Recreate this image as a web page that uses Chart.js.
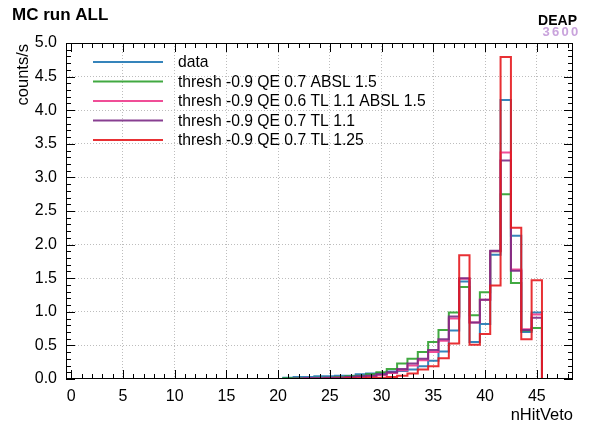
<!DOCTYPE html>
<html>
<head>
<meta charset="utf-8">
<script src="https://cdn.jsdelivr.net/npm/chart.js@4.4.0/dist/chart.umd.min.js"></script>
<style>
  html, body { margin: 0; padding: 0; background: #fff; }
  #c { display: block; }
</style>
</head>
<body>
<canvas id="c" width="589" height="427"></canvas>
<script>
// BIN CENTRES (nHitVeto)
var nHitVeto = [0, 1, 2, 3, 4, 5, 6, 7, 8, 9, 10, 11, 12, 13, 14, 15, 16, 17, 18, 19,
    20, 21, 22, 23, 24, 25, 26, 27, 28, 29, 30, 31, 32, 33, 34, 35, 36, 37, 38, 39,
    40, 41, 42, 43, 44, 45, 46, 47, 48];

// COUNTS/S PER BIN
var data = [0, 0, 0, 0, 0, 0, 0, 0, 0, 0, 0, 0, 0, 0, 0, 0, 0, 0, 0, 0,
    0, 0.02, 0.03, 0.03, 0.04, 0.04, 0.05, 0.05, 0.07, 0.08, 0.09, 0.11, 0.12, 0.14, 0.19, 0.27, 0.41, 0.72, 1.45, 0.55,
    0.82, 1.85, 4.15, 2.13, 0.70, 0.99, 0, 0, 0];
var qe07absl15 = [0, 0, 0, 0, 0, 0, 0, 0, 0, 0, 0, 0, 0, 0, 0, 0, 0, 0, 0, 0,
    0, 0.01, 0.01, 0.01, 0.02, 0.02, 0.03, 0.04, 0.05, 0.07, 0.10, 0.15, 0.23, 0.30, 0.40, 0.55, 0.73, 0.99, 1.37, 0.95,
    1.29, 1.90, 2.75, 1.43, 0.72, 0.76, 0, 0, 0];
var qe06tl11absl15 = [0, 0, 0, 0, 0, 0, 0, 0, 0, 0, 0, 0, 0, 0, 0, 0, 0, 0, 0, 0,
    0, 0, 0.005, 0.01, 0.01, 0.01, 0.02, 0.02, 0.03, 0.04, 0.06, 0.09, 0.13, 0.20, 0.28, 0.40, 0.57, 0.90, 1.49, 0.84,
    1.18, 1.90, 3.37, 1.63, 0.74, 0.96, 0, 0, 0];
var qe07tl11 = [0, 0, 0, 0, 0, 0, 0, 0, 0, 0, 0, 0, 0, 0, 0, 0, 0, 0, 0, 0,
    0, 0, 0.005, 0.01, 0.01, 0.02, 0.02, 0.03, 0.04, 0.05, 0.07, 0.10, 0.15, 0.23, 0.30, 0.43, 0.59, 0.93, 1.50, 0.84,
    1.18, 1.91, 3.25, 1.61, 0.73, 0.91, 0, 0, 0];
var qe07tl125 = [0, 0, 0, 0, 0, 0, 0, 0, 0, 0, 0, 0, 0, 0, 0, 0, 0, 0, 0, 0,
    0, 0, 0, 0, 0, 0.005, 0.005, 0.01, 0.01, 0.02, 0.02, 0.03, 0.05, 0.08, 0.14, 0.19, 0.31, 0.53, 1.84, 0.51,
    0.67, 1.39, 4.79, 2.25, 0.59, 1.47, 0, 0, 0];

var seriesNames = ["data", "thresh -0.9 QE 0.7 ABSL 1.5", "thresh -0.9 QE 0.6 TL 1.1 ABSL 1.5",
    "thresh -0.9 QE 0.7 TL 1.1", "thresh -0.9 QE 0.7 TL 1.25"];
var seriesValues = [data, qe07absl15, qe06tl11absl15, qe07tl11, qe07tl125];
var seriesColors = ["rgba(31,119,180,0.9)", "rgba(44,160,44,0.9)", "rgba(238,58,140,0.9)",
    "rgba(123,42,133,0.9)", "rgba(230,25,30,0.9)"];

var yTicks = [];
for (var k = 0; k <= 50; k++) yTicks.push(Math.round(k) / 10);

// histogram outline: one point per left bin edge, plus the last right edge
function histPoints(values) {
    var pts = nHitVeto.map(function(c, i) { return { x: c - 0.5, y: values[i] }; });
    pts.push({ x: nHitVeto[nHitVeto.length - 1] + 0.5, y: values[values.length - 1] });
    return pts;
}

var datasets = [];
for (var i = 0; i < seriesNames.length; i++) {
    datasets.push({
        label: seriesNames[i],
        data: histPoints(seriesValues[i]),
        borderColor: seriesColors[i],
        borderWidth: 2,
        pointRadius: 0,
        stepped: true,
        fill: false,
        order: seriesNames.length - i
    });
}

function isMajorY(v) { return Math.round(v * 10) % 5 === 0; }

var rootStyle = {
    id: 'rootStyle',
    afterDraw: function(chart) {
        var ctx = chart.ctx, a = chart.chartArea;
        var xs = chart.scales.x, ys = chart.scales.y;
        ctx.save();
        ctx.strokeStyle = '#000';
        ctx.lineWidth = 1;
        ctx.strokeRect(a.left + 0.5, a.top + 0.5, a.right - a.left - 1, a.bottom - a.top - 1);

        // TICKS POINTING INSIDE ON ALL FOUR SIDES
        ctx.beginPath();
        xs.ticks.forEach(function(t) {
            var px = Math.round(xs.getPixelForValue(t.value)) + 0.5;
            var len = t.value % 5 === 0 ? 9 : 5;
            ctx.moveTo(px, a.bottom); ctx.lineTo(px, a.bottom - len);
            ctx.moveTo(px, a.top); ctx.lineTo(px, a.top + len);
        });
        ys.ticks.forEach(function(t) {
            var py = Math.round(ys.getPixelForValue(t.value)) + 0.5;
            var len = isMajorY(t.value) ? 9 : 5;
            ctx.moveTo(a.left, py); ctx.lineTo(a.left + len, py);
            ctx.moveTo(a.right, py); ctx.lineTo(a.right - len, py);
        });
        ctx.stroke();

        // LEGEND INSIDE THE FRAME
        var legY = [62, 81.5, 101, 120.5, 140];
        ctx.font = '15.7px "Liberation Sans", Arial, sans-serif';
        ctx.textBaseline = 'middle';
        ctx.textAlign = 'left';
        for (var i = 0; i < seriesNames.length; i++) {
            ctx.strokeStyle = seriesColors[i];
            ctx.lineWidth = 2;
            ctx.beginPath();
            ctx.moveTo(93, legY[i]); ctx.lineTo(163, legY[i]);
            ctx.stroke();
            ctx.fillStyle = '#000';
            ctx.fillText(seriesNames[i], 178, legY[i] + 1);
        }

        // TITLES
        ctx.fillStyle = '#000';
        ctx.textBaseline = 'alphabetic';
        ctx.font = 'bold 17px "Liberation Sans", Arial, sans-serif';
        ctx.fillText('MC run ALL', 12, 20);

        ctx.textAlign = 'right';
        ctx.font = 'bold 14px "Liberation Sans", Arial, sans-serif';
        ctx.fillText('DEAP', 577, 25);
        ctx.fillStyle = '#c9a3dc';
        ctx.font = 'bold 13px "Liberation Sans", Arial, sans-serif';
        ctx.textAlign = 'center';
        var digits = ['3', '6', '0', '0'];
        for (var d = 0; d < digits.length; d++) ctx.fillText(digits[d], 546 + d * 9.5, 36);

        ctx.fillStyle = '#000';
        ctx.textAlign = 'right';
        ctx.font = '16.5px "Liberation Sans", Arial, sans-serif';
        ctx.fillText('nHitVeto', 573, 420);

        ctx.translate(28, 44);
        ctx.rotate(-Math.PI / 2);
        ctx.fillText('counts/s', 0, 0);
        ctx.restore();
    }
};

Chart.defaults.color = '#000';
Chart.defaults.font.family = '"Liberation Sans", Arial, sans-serif';

var ctx = document.getElementById("c").getContext('2d');
var chart = new Chart(ctx, {
    type: 'line',
    data: { datasets: datasets },
    plugins: [rootStyle],
    options: {
        responsive: false,
        animation: false,
        layout: { padding: { top: 43, right: 16, left: 0, bottom: 0 } },
        plugins: { legend: { display: false }, tooltip: { enabled: false } },
        scales: {
            x: {
                type: 'linear',
                min: -0.5,
                max: 48.5,
                afterBuildTicks: function(s) { s.ticks = nHitVeto.map(function(v) { return { value: v }; }); },
                afterFit: function(s) { s.height = 48; },
                ticks: {
                    autoSkip: false, maxRotation: 0, padding: 8,
                    font: { size: 16 },
                    callback: function(v) { return v % 5 === 0 ? String(v) : ''; }
                },
                grid: {
                    drawTicks: false,
                    color: function(c) { return (c.tick && c.tick.value % 5 === 0 && c.tick.value > 0) ? '#bdbdbd' : 'rgba(0,0,0,0)'; }
                },
                border: { display: false, dash: [1, 2] }
            },
            y: {
                min: 0,
                max: 5,
                afterBuildTicks: function(s) { s.ticks = yTicks.map(function(v) { return { value: v }; }); },
                afterFit: function(s) { s.width = 66; },
                ticks: {
                    autoSkip: false, padding: 9,
                    font: { size: 16 },
                    callback: function(v) { return isMajorY(v) ? v.toFixed(1) : ''; }
                },
                grid: {
                    drawTicks: false,
                    color: function(c) { return (c.tick && isMajorY(c.tick.value) && c.tick.value > 0 && c.tick.value < 5) ? '#bdbdbd' : 'rgba(0,0,0,0)'; }
                },
                border: { display: false, dash: [1, 2] }
            }
        }
    }
});
</script>
</body>
</html>
